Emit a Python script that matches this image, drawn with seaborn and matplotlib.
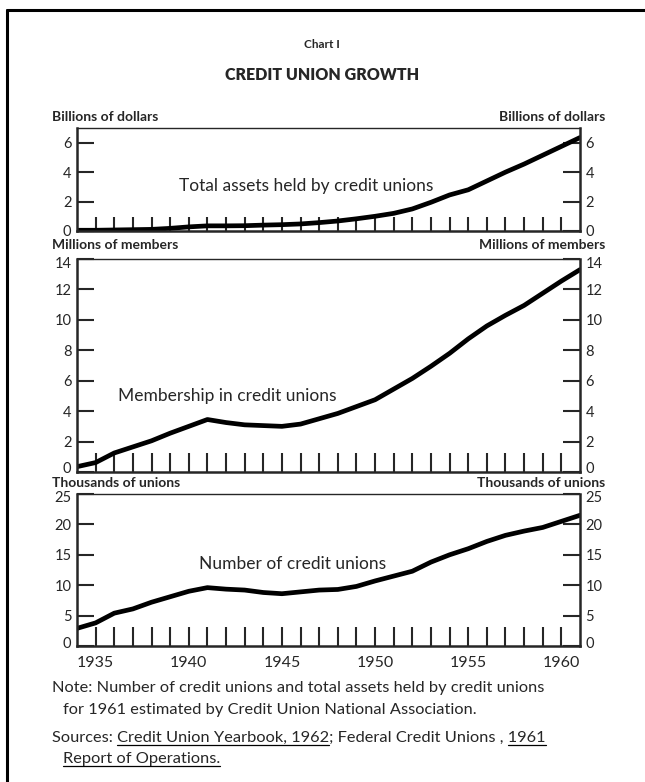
import matplotlib
matplotlib.use("Agg")
import matplotlib.pyplot as plt
import matplotlib.transforms as mtransforms
from matplotlib.lines import Line2D
from matplotlib.ticker import FixedLocator, FuncFormatter
import seaborn as sns

# data (1934-1961)
years = [1934, 1935, 1936, 1937, 1938, 1939, 1940, 1941, 1942, 1943, 1944, 1945, 1946, 1947,
         1948, 1949, 1950, 1951, 1952, 1953, 1954, 1955, 1956, 1957, 1958, 1959, 1960, 1961]
assets = [0.05, 0.05, 0.07, 0.09, 0.11, 0.18, 0.28, 0.35, 0.35, 0.36, 0.40, 0.43, 0.48, 0.57,
          0.68, 0.83, 1.00, 1.20, 1.50, 1.95, 2.45, 2.80, 3.40, 4.00, 4.55, 5.15, 5.75, 6.35]
members = [0.35, 0.62, 1.25, 1.65, 2.05, 2.55, 3.00, 3.45, 3.25, 3.10, 3.05, 3.00, 3.15, 3.50,
           3.85, 4.30, 4.75, 5.45, 6.15, 6.95, 7.80, 8.75, 9.60, 10.30, 10.95, 11.75, 12.55, 13.30]
unions = [2.9, 3.8, 5.4, 6.1, 7.2, 8.1, 9.0, 9.6, 9.35, 9.2, 8.8, 8.6, 8.9, 9.2,
          9.3, 9.8, 10.7, 11.5, 12.3, 13.8, 15.0, 16.0, 17.2, 18.2, 18.9, 19.5, 20.5, 21.5]

year_ticks = years[1:-1]
year_labels = [1935, 1940, 1945, 1950, 1955, 1960]

panel_units = ["Billions of dollars", "Millions of members", "Thousands of unions"]
panel_titles = ["Total assets held by credit unions", "Membership in credit unions",
                "Number of credit unions"]
panel_yticks = [[0, 2, 4, 6], [0, 2, 4, 6, 8, 10, 12, 14], [0, 5, 10, 15, 20, 25]]
panel_ylim = [7, 14, 25]

sns.set_style("ticks")
plt.rcParams['font.family'] = ['Lato', 'DejaVu Sans']

W, H = 645, 782
fig = plt.figure(figsize=(W / 100, H / 100), dpi=100)

def fx(px):
    return px / W

def fy(py):
    return 1 - py / H

# panel boxes in pixels: top, bottom
boxes = [(128, 231), (259, 472), (494, 646)]
xlen = [10, 14, 14]
# caption positions (pixel x, y) inside the panels
cap_pos = [(306, 186), (227, 396), (293, 564)]
unit_y = [117, 245, 483]
# nudge (in pixels) for the lowest and highest y labels
low_shift = [0, 4, 4]
high_shift = [0, -3, -3]

series = [assets, members, unions]
for i, (top, bot) in enumerate(boxes):
    ax = fig.add_axes([fx(77), fy(bot), fx(580) - fx(77), (bot - top) / H])
    sns.lineplot(x=years, y=series[i], ax=ax, color="black", lw=3.4)
    ax.set_xlim(1934, 1961)
    ax.set_ylim(0, panel_ylim[i])
    ax.set_yticks(panel_yticks[i])
    ax.xaxis.set_major_locator(FixedLocator(year_ticks))
    ax.xaxis.set_major_formatter(FuncFormatter(lambda v, p: f"{int(v)}" if int(v) in year_labels else ""))
    ax.tick_params(axis="y", direction="in", length=12, width=1.5, left=True, right=True,
                   labelleft=True, labelright=True, labelsize=10.5, pad=4)
    ax.tick_params(axis="x", direction="in", length=xlen[i], width=1.5,
                   labelbottom=(i == 2), labelsize=11.5, pad=7)
    for s in ["left", "right", "bottom"]:
        ax.spines[s].set_linewidth(1.8)
    ax.spines["top"].set_linewidth(1.0)
    ax.set_xlabel("")
    ax.set_ylabel("")

    # move the end labels a little inside, like the original
    ticks = ax.yaxis.get_major_ticks()
    for tk, dy in [(ticks[0], low_shift[i]), (ticks[-1], high_shift[i])]:
        off = mtransforms.ScaledTranslation(0, dy / 100, fig.dpi_scale_trans)
        tk.label1.set_transform(tk.label1.get_transform() + off)
        tk.label2.set_transform(tk.label2.get_transform() + off)

    cx, cy = cap_pos[i]
    fig.text(fx(cx), fy(cy), panel_titles[i], ha="center", va="center", fontsize=12.5)
    fig.text(fx(52), fy(unit_y[i]), panel_units[i], ha="left", va="center",
             fontsize=10, fontweight="bold")
    fig.text(fx(605), fy(unit_y[i]), panel_units[i], ha="right", va="center",
             fontsize=10, fontweight="bold")

# titles
fig.text(fx(322), fy(44), "Chart I", ha="center", va="center", fontsize=8.5, fontweight="bold")
fig.text(fx(322), fy(75), "CREDIT UNION GROWTH", ha="center", va="center", fontsize=11.5,
         fontweight="heavy")

# frame (left and top only)
fig.add_artist(Line2D([fx(7), fx(7)], [0, fy(10)], transform=fig.transFigure, color="black", lw=2.2))
fig.add_artist(Line2D([fx(7), 1], [fy(10), fy(10)], transform=fig.transFigure, color="black", lw=2.2))

# notes with underlined pieces
renderer = fig.canvas.get_renderer()
note_fs = 11.8

def text_width(s):
    t = fig.text(0, 0, s, fontsize=note_fs)
    w = t.get_window_extent(renderer=renderer).width
    t.remove()
    return w

def note_line(x_px, y_px, s, underline=()):
    fig.text(fx(x_px), fy(y_px), s, fontsize=note_fs, ha="left", va="baseline")
    for part in underline:
        k = s.index(part)
        x0 = text_width(s[:k] + "x") - text_width("x")
        x1 = text_width(s[:k] + part)
        fig.add_artist(Line2D([fx(x_px + x0), fx(x_px + x1)], [fy(y_px + 3), fy(y_px + 3)],
                              transform=fig.transFigure, color="black", lw=0.9))

note_line(52, 692, "Note: Number of credit unions and total assets held by credit unions")
note_line(63, 714, "for 1961 estimated by Credit Union National Association.")
note_line(52, 742, "Sources: Credit Union Yearbook, 1962; Federal Credit Unions , 1961",
          underline=("Credit Union Yearbook, 1962", "1961"))
note_line(63, 763, "Report of Operations.", underline=("Report of Operations.",))

fig.savefig("out.png", dpi=100)
